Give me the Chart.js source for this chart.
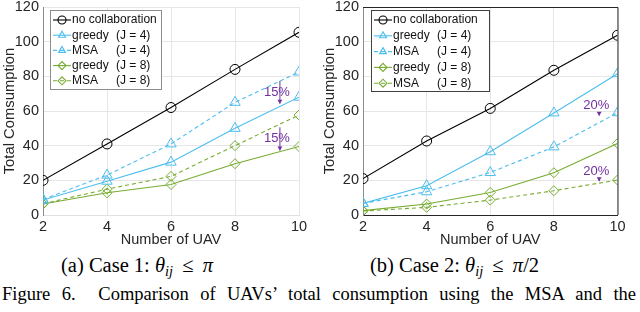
<!DOCTYPE html>
<html>
<head>
<meta charset="utf-8">
<script src="https://cdn.jsdelivr.net/npm/chart.js@4.4.1/dist/chart.umd.min.js"></script>
<style>
  body { margin: 0; width: 640px; height: 312px; background: #fff; position: relative; overflow: hidden; }
  .panel { position: absolute; top: 0; width: 320px; height: 250px; }
  .cap { position: absolute; font-family: "Liberation Serif", "Times New Roman", serif; color: #000; white-space: nowrap; }
  .sub { font-size: 0.7em; position: relative; top: 0.25em; font-style: italic; }
  .rel { display: inline-block; margin: 0 0.45em; }
  #figcap { left: 2px; top: 284px; font-size: 18.5px; }
</style>
</head>
<body>
<div class="panel" style="left:0"><canvas id="caseA" width="320" height="250"></canvas></div>
<div class="panel" style="left:320px"><canvas id="caseB" width="320" height="250"></canvas></div>
<div class="cap" id="capA" style="left:61px; top:254px; font-size:20.5px;">(a) Case 1: <i>θ</i><span class="sub">ij</span><span class="rel">≤</span><i>π</i></div>
<div class="cap" id="capB" style="left:370px; top:254px; font-size:20.5px;">(b) Case 2: <i>θ</i><span class="sub">ij</span><span class="rel">≤</span><i>π</i>/2</div>
<div class="cap" id="figcap">Figure 6.&nbsp; Comparison of UAVs’ total consumption using the MSA and the</div>
<script>
"use strict"

const uavCounts = [2, 4, 6, 8, 10];
const xTicks = [2, 4, 6, 8, 10];
const yTicks = [0, 20, 40, 60, 80, 100, 120];

const seriesNames = ["no collaboration", "greedy", "MSA", "greedy", "MSA"];
const seriesJ = ["", "(J = 4)", "(J = 4)", "(J = 8)", "(J = 8)"];

// case 1
const noCollabA = [20, 41, 62, 84, 105.4];
const greedy4A = [8.6, 19.5, 30.5, 50, 68];
const msa4A = [9, 23, 41, 65, 82.5];
const greedy8A = [6.3, 12.8, 17.6, 29.6, 39.5];
const msa8A = [6.5, 14.9, 22.3, 40, 57.7];

// case 2
const noCollabB = [21, 42.7, 61.5, 83.5, 103.7];
const greedy4B = [6.7, 16.9, 36.5, 58.9, 81.5];
const msa4B = [6.7, 13.4, 24.5, 39.3, 59];
const greedy8B = [2.5, 6.3, 13, 24.4, 41.3];
const msa8B = [2.3, 4.4, 8.6, 14, 20.2];

// percentage notes: label, x, text y, arrow from, arrow to
const notesA = [
    ["15%", 9.31, 70.5, 77.4, 64.2],
    ["15%", 9.31, 44.1, 50.6, 37.2]
];
const notesB = [
    ["20%", 9.33, 63.0, 58.6, 57.3],
    ["20%", 9.33, 25.2, 20.8, 19.5]
];

const BLACK = "#000000";
const BLUE = "#4DBEEE";
const GREEN = "#77AC30";
const PURPLE = "#7030A0";
const FONT = "'Liberation Sans', Arial, Helvetica, sans-serif";

function makeSets(values) {
    const colors = [BLACK, BLUE, BLUE, GREEN, GREEN];
    const marks = ["circle", "triangle", "triangle", "rectRot", "rectRot"];
    const dashed = [false, false, true, false, true];
    return values.map((v, i) => ({
        label: seriesNames[i],
        data: uavCounts.map((u, k) => ({x: u, y: v[k]})),
        borderColor: colors[i],
        borderWidth: 1.1,
        borderDash: dashed[i] ? [4, 3] : [],
        pointStyle: marks[i],
        pointRadius: marks[i] == "triangle" ? 6 : 5,
        pointBorderWidth: 1,
        pointBorderColor: colors[i],
        pointBackgroundColor: "rgba(0,0,0,0)",
        fill: false,
        tension: 0
    }));
}

const matLegend = {
    id: "matLegend",
    afterDatasetsDraw(chart, args, opts) {
        const ctx = chart.ctx;
        ctx.save();
        ctx.fillStyle = "#ffffff";
        ctx.fillRect(opts.x, opts.y, opts.w, opts.h);
        ctx.strokeStyle = opts.border;
        ctx.lineWidth = 1;
        ctx.setLineDash([]);
        ctx.strokeRect(opts.x + 0.5, opts.y + 0.5, opts.w, opts.h);
        ctx.font = "12px " + FONT;
        ctx.textBaseline = "middle";
        chart.data.datasets.forEach((ds, i) => {
            const cy = opts.y + opts.first + i * opts.gap;
            ctx.strokeStyle = ds.borderColor;
            ctx.lineWidth = 1.1;
            ctx.setLineDash(ds.borderDash);
            ctx.beginPath();
            ctx.moveTo(opts.x + 3, cy);
            ctx.lineTo(opts.x + 21, cy);
            ctx.stroke();
            ctx.setLineDash([]);
            ctx.fillStyle = "rgba(0,0,0,0)";
            Chart.helpers.drawPoint(ctx, {pointStyle: ds.pointStyle, radius: 4, rotation: 0, borderWidth: 1}, opts.x + 12, cy);
            ctx.fillStyle = "#111";
            ctx.fillText(ds.label, opts.x + 22, cy);
            if (seriesJ[i]) ctx.fillText(seriesJ[i], opts.x + 66, cy);
        });
        ctx.restore();
    }
};

const notes = {
    id: "notes",
    afterDatasetsDraw(chart, args, opts) {
        const ctx = chart.ctx;
        const xs = chart.scales.x, ys = chart.scales.y;
        ctx.save();
        ctx.fillStyle = PURPLE;
        ctx.strokeStyle = PURPLE;
        ctx.font = "13px " + FONT;
        ctx.textAlign = "center";
        ctx.textBaseline = "middle";
        opts.list.forEach(n => {
            const px = xs.getPixelForValue(n[1]);
            const ax = px + opts.shift;
            ctx.fillText(n[0], px, ys.getPixelForValue(n[2]));
            const y0 = ys.getPixelForValue(n[3]);
            const y1 = ys.getPixelForValue(n[4]);
            ctx.lineWidth = 1;
            ctx.beginPath();
            ctx.moveTo(ax, y0);
            ctx.lineTo(ax, y1);
            ctx.stroke();
            ctx.beginPath();
            ctx.moveTo(ax - 2.5, y1 - 4);
            ctx.lineTo(ax + 2.5, y1 - 4);
            ctx.lineTo(ax, y1);
            ctx.closePath();
            ctx.fill();
        });
        ctx.restore();
    }
};

const frame = {
    id: "frame",
    afterDatasetsDraw(chart, args, opts) {
        if (!opts.show) return;
        const a = chart.chartArea;
        const ctx = chart.ctx;
        ctx.save();
        ctx.strokeStyle = "#262626";
        ctx.lineWidth = 1;
        ctx.beginPath();
        ctx.moveTo(a.left, a.top + 0.5);
        ctx.lineTo(a.right + 0.5, a.top + 0.5);
        ctx.lineTo(a.right + 0.5, a.bottom);
        ctx.stroke();
        ctx.restore();
    }
};

function makeChart(id, values, notesList, legendOpts, padTop, padRight, boxed) {
    return new Chart(document.querySelector(id), {
        type: "line",
        data: { datasets: makeSets(values) },
        options: {
            responsive: false,
            animation: false,
            layout: { padding: { top: padTop, right: padRight, left: 0, bottom: 0 } },
            plugins: {
                legend: { display: false },
                tooltip: { enabled: false },
                matLegend: legendOpts,
                notes: { list: notesList, shift: 3 },
                frame: { show: boxed }
            },
            scales: {
                x: {
                    type: "linear",
                    min: 2,
                    max: 10,
                    afterBuildTicks: s => { s.ticks = xTicks.map(v => ({value: v})); },
                    afterFit: s => { s.height = 35; s.paddingLeft = 0; s.paddingRight = 0; },
                    grid: { color: "#e6e6e6", drawTicks: false },
                    border: { color: boxed ? "#262626" : "#e0e0e0" },
                    ticks: { color: "#262626", font: { family: FONT, size: 14.5 }, padding: 3, maxRotation: 0 },
                    title: { display: true, text: "Number of UAV", color: "#262626", font: { family: FONT, size: 14.5 }, padding: { top: 0, bottom: 1 } }
                },
                y: {
                    min: 0,
                    max: 120,
                    afterBuildTicks: s => { s.ticks = yTicks.map(v => ({value: v})); },
                    afterFit: s => { s.width = 43; s.paddingTop = 0; s.paddingBottom = 0; },
                    grid: { color: "#e6e6e6", drawTicks: false },
                    border: { color: "#8c8c8c" },
                    ticks: { color: "#262626", font: { family: FONT, size: 14.5 }, padding: 4 },
                    title: { display: true, text: "Total Comsumption", color: "#262626", font: { family: FONT, size: 14.8 }, padding: { top: 1, bottom: 0 } }
                }
            }
        },
        plugins: [matLegend, notes, frame]
    });
}

makeChart("#caseA", [noCollabA, greedy4A, msa4A, greedy8A, msa8A], notesA,
    { x: 50, y: 10, w: 111, h: 79, first: 10, gap: 15.2, border: "#8c8c8c" }, 6, 21, false);

makeChart("#caseB", [noCollabB, greedy4B, msa4B, greedy8B, msa8B], notesB,
    { x: 51, y: 10, w: 118, h: 81, first: 10, gap: 15.8, border: "#404040" }, 7, 22.5, true);

// stretch the caption line to the full width, as the justified paper text does
const cap = document.querySelector("#figcap");
const gaps = (cap.textContent.match(/[ \u00a0]/g) || []).length;
const spare = 634 - cap.getBoundingClientRect().width;
cap.style.wordSpacing = (spare / gaps) + "px";
</script>
</body>
</html>
